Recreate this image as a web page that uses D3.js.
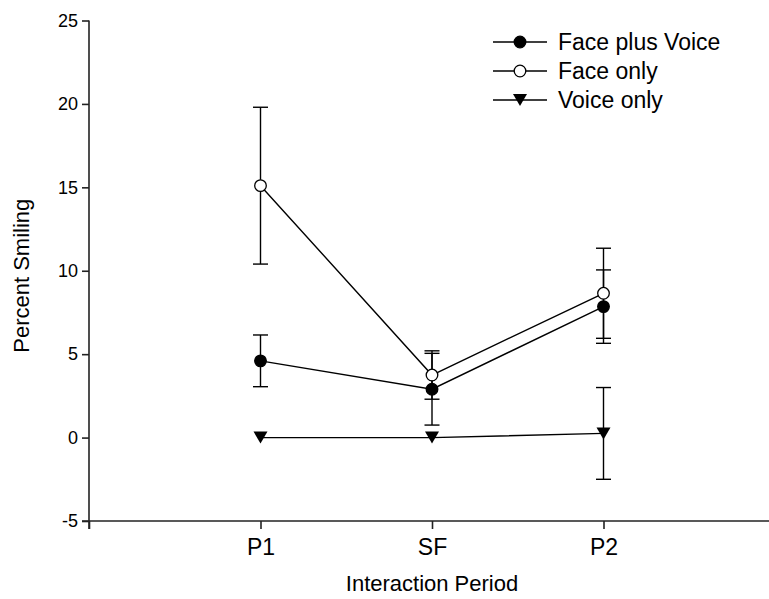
<!DOCTYPE html>
<html>
<head>
<meta charset="utf-8">
<script src="https://cdn.jsdelivr.net/npm/d3@7"></script>
<style>
  body { margin: 0; background: #fff; }
  text { font-family: "Liberation Sans", Arial, sans-serif; fill: #000; }
</style>
</head>
<body>
<div id="chart"></div>
<script>
const periods = ["P1", "SF", "P2"];
const yTicks = [-5, 0, 5, 10, 15, 20, 25];

const faceVoiceMean = [4.6, 2.9, 7.85];
const faceVoiceErr = [1.55, 2.15, 2.2];
const faceOnlyMean = [15.1, 3.75, 8.65];
const faceOnlyErr = [4.7, 1.45, 2.7];
const voiceOnlyMean = [0, 0, 0.25];
const voiceOnlyErr = [0, 0, 2.75];

const seriesNames = ["Face plus Voice", "Face only", "Voice only"];

const width = 769, height = 599;
const svg = d3.select("#chart").append("svg")
    .attr("width", width)
    .attr("height", height);

const x = d3.scaleLinear().domain([0, 4]).range([89, 775]);
const y = d3.scaleLinear().domain([-5, 25]).range([521, 20.5]);

// axes
const xAxis = d3.axisBottom(x)
    .tickValues([0, 1, 2, 3])
    .tickFormat(d => d === 0 ? "" : periods[d - 1])
    .tickSize(8).tickSizeOuter(0).tickPadding(10);
const yAxis = d3.axisLeft(y)
    .tickValues(yTicks)
    .tickFormat(d => String(d))
    .tickSize(7).tickSizeOuter(0).tickPadding(4);

const gx = svg.append("g").attr("transform", `translate(0,${y(-5)})`).call(xAxis);
gx.select(".domain").attr("d", `M82,0H${width}`);
gx.selectAll("text").style("font-size", "23px");

const gy = svg.append("g").attr("transform", `translate(${x(0)},0)`).call(yAxis);
gy.select(".domain").attr("d", `M0,${y(25)}V${y(-5) + 8}`);
gy.selectAll("text").style("font-size", "18px");

svg.selectAll(".domain, .tick line").attr("stroke", "#222").attr("stroke-width", 1.6);

svg.append("text")
    .attr("transform", `translate(29,${(y(25) + y(-5)) / 2 + 5}) rotate(-90)`)
    .attr("text-anchor", "middle")
    .style("font-size", "22px")
    .text("Percent Smiling");

svg.append("text")
    .attr("x", x(2)).attr("y", 591)
    .attr("text-anchor", "middle")
    .style("font-size", "22px")
    .text("Interaction Period");

const series = [
    { name: seriesNames[0], mean: faceVoiceMean, err: faceVoiceErr, shape: "filled" },
    { name: seriesNames[1], mean: faceOnlyMean, err: faceOnlyErr, shape: "open" },
    { name: seriesNames[2], mean: voiceOnlyMean, err: voiceOnlyErr, shape: "tri" }
];

const line = d3.line().x((d, i) => x(i + 1)).y(d => y(d));

function drawMarker(g, shape, cx, cy) {
    if (shape === "tri") {
        g.append("path")
            .attr("d", `M${cx - 7},${cy - 6}L${cx + 7},${cy - 6}L${cx},${cy + 6}Z`)
            .attr("fill", "#000");
    } else {
        g.append("circle")
            .attr("cx", cx).attr("cy", cy).attr("r", 5.8)
            .attr("fill", shape === "filled" ? "#000" : "#fff")
            .attr("stroke", "#000").attr("stroke-width", 1.3);
    }
}

// error bars first, then lines, then markers
series.forEach(s => {
    const g = svg.append("g").attr("stroke", "#000").attr("stroke-width", 1.4);
    s.mean.forEach((m, i) => {
        if (!s.err[i]) return;
        const cx = x(i + 1), top = y(m + s.err[i]), bot = y(m - s.err[i]);
        g.append("line").attr("x1", cx).attr("x2", cx).attr("y1", top).attr("y2", bot);
        g.append("line").attr("x1", cx - 7.5).attr("x2", cx + 7.5).attr("y1", top).attr("y2", top);
        g.append("line").attr("x1", cx - 7.5).attr("x2", cx + 7.5).attr("y1", bot).attr("y2", bot);
    });
});

series.forEach(s => {
    svg.append("path")
        .attr("d", line(s.mean))
        .attr("fill", "none")
        .attr("stroke", "#000")
        .attr("stroke-width", 1.4);
});

series.forEach(s => {
    const g = svg.append("g");
    s.mean.forEach((m, i) => drawMarker(g, s.shape, x(i + 1), y(m)));
});

// legend
const legend = svg.append("g");
series.forEach((s, i) => {
    const ly = 42 + i * 29;
    legend.append("line")
        .attr("x1", 493).attr("x2", 547).attr("y1", ly).attr("y2", ly)
        .attr("stroke", "#000").attr("stroke-width", 1.4);
    drawMarker(legend, s.shape, 520, ly);
    legend.append("text")
        .attr("x", 558).attr("y", ly)
        .attr("dy", "0.35em")
        .style("font-size", "23px")
        .text(s.name);
});
</script>
</body>
</html>
